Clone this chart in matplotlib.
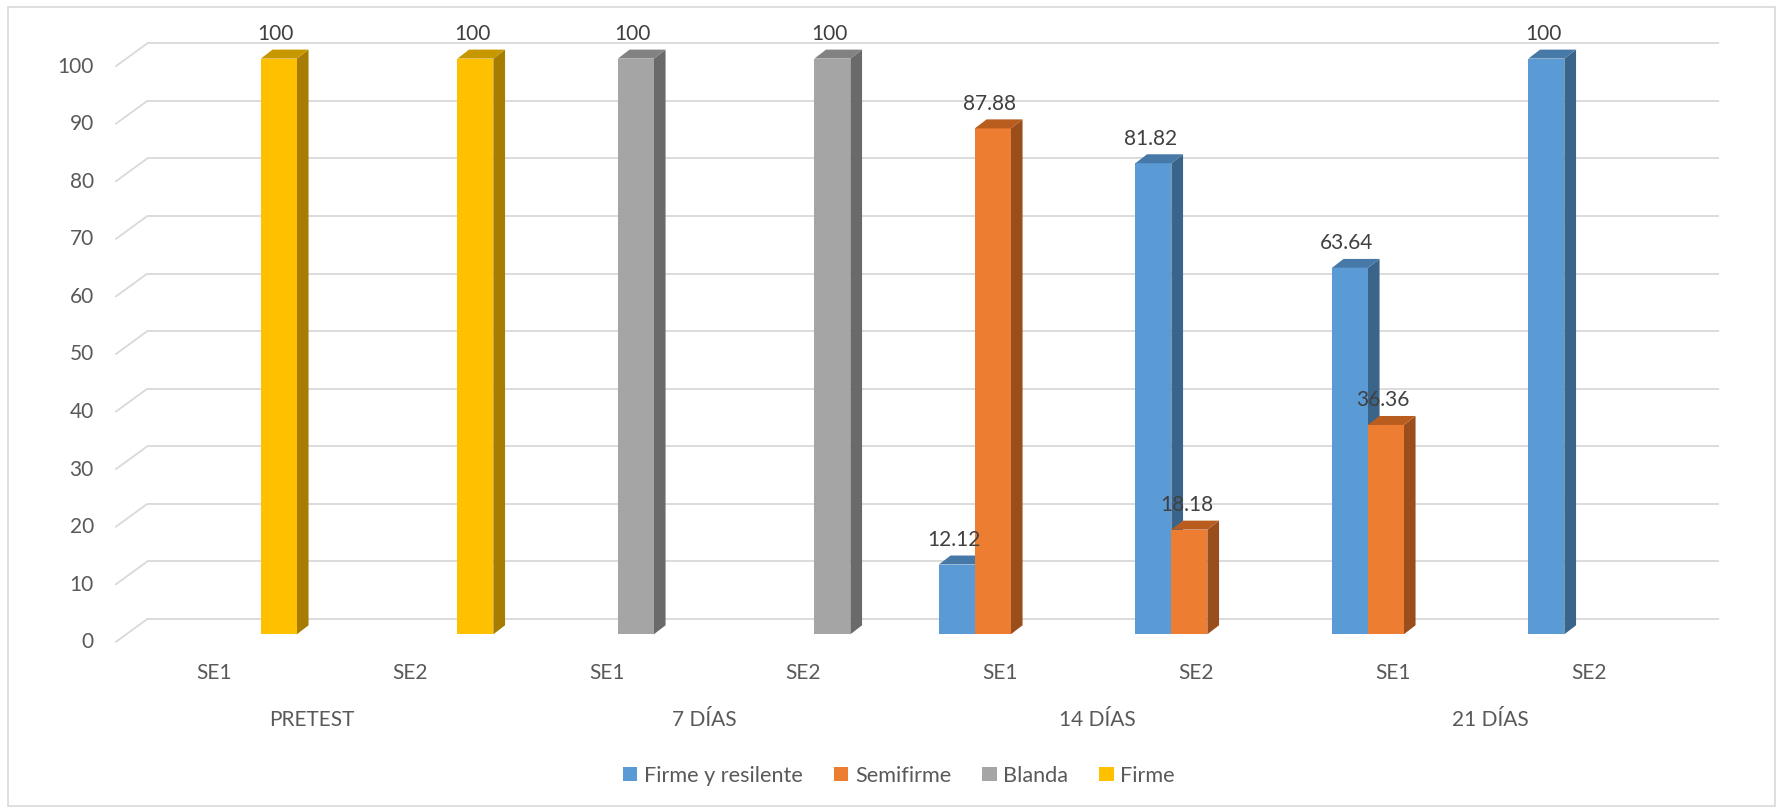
import matplotlib
matplotlib.use("Agg")
import matplotlib.pyplot as plt
from matplotlib.patches import Polygon, Patch, Rectangle

# ---- data -------------------------------------------------------------
groups = ["PRETEST", "7 DÍAS", "14 DÍAS", "21 DÍAS"]
sessions = ["SE1", "SE2", "SE1", "SE2", "SE1", "SE2", "SE1", "SE2"]
series_names = ["Firme y resilente", "Semifirme", "Blanda", "Firme"]
firme_resilente = [0, 0, 0, 0, 12.12, 81.82, 63.64, 100]
semifirme = [0, 0, 0, 0, 87.88, 18.18, 36.36, 0]
blanda = [0, 0, 100, 100, 0, 0, 0, 0]
firme = [100, 100, 0, 0, 0, 0, 0, 0]
y_ticks = [0, 10, 20, 30, 40, 50, 60, 70, 80, 90, 100]

series_values = [firme_resilente, semifirme, blanda, firme]

# ---- styling -----------------------------------------------------------
front_colors = ["#5B9BD5", "#ED7D31", "#A5A5A5", "#FFC000"]
top_colors = ["#4679A8", "#B95D1F", "#828282", "#C79700"]
side_colors = ["#3A6489", "#9A4E1C", "#6A6A6A", "#A67D00"]
grid_color = "#D9D9D9"
axis_text = "#595959"
value_text = "#404040"
FONT = "Lato"
FS = 15

W_PX, H_PX = 1780, 809
fig = plt.figure(figsize=(W_PX / 100, H_PX / 100), dpi=100)
ax = fig.add_axes([0, 0, 1, 1])
ax.axis("off")

# scale of the back wall: one category slot and one value unit in pixels
CAT_PX = 196.5
VAL_PX = 5.757
X0_PX = 147.3       # left edge of back wall
Y0_PX = 190.0       # value 0 on back wall, measured from bottom
ax.set_xlim(-X0_PX / CAT_PX, (W_PX - X0_PX) / CAT_PX)
ax.set_ylim(-Y0_PX / VAL_PX, (H_PX - Y0_PX) / VAL_PX)

def dx(px):
    return px / CAT_PX

def dy(px):
    return px / VAL_PX

n_cat = len(sessions)
FLOOR_DX, FLOOR_DY = dx(-32), dy(-23.3)     # back wall -> front edge of floor
FRONT_DX, FRONT_DY = dx(-20.7), dy(-15.3)   # back wall -> bar front faces
DEPTH_DX, DEPTH_DY = dx(11.7), dy(9.0)      # bar depth
BAR_W = dx(36)

# gridlines on the back wall plus their slanted run on the left side
for v in y_ticks:
    ax.plot([0, n_cat], [v, v], color=grid_color, lw=1.3, zorder=1,
            solid_capstyle="butt")
    ax.plot([FLOOR_DX, 0], [v + FLOOR_DY, v], color=grid_color, lw=1.3,
            zorder=1, solid_capstyle="butt")
    ax.text(dx(93.8 - X0_PX), v + FLOOR_DY, str(v), ha="right", va="center",
            fontsize=FS, family=FONT, color=axis_text)

# bars: front face, side face, top face
n_ser = len(series_values)
z = 2
for i in range(n_cat):
    left = i + 0.5 + FRONT_DX - n_ser * BAR_W / 2
    for k, vals in enumerate(series_values):
        v = vals[i]
        if v <= 0:
            continue
        x0 = left + k * BAR_W
        top = v + FRONT_DY
        ax.bar(x0, v, width=BAR_W, bottom=FRONT_DY, align="edge",
               color=front_colors[k], edgecolor="none", zorder=z)
        side = Polygon([(x0 + BAR_W, FRONT_DY),
                        (x0 + BAR_W + DEPTH_DX, FRONT_DY + DEPTH_DY),
                        (x0 + BAR_W + DEPTH_DX, top + DEPTH_DY),
                        (x0 + BAR_W, top)],
                       closed=True, facecolor=side_colors[k], edgecolor="none",
                       zorder=z - 0.5)
        cap = Polygon([(x0, top), (x0 + BAR_W, top),
                       (x0 + BAR_W + DEPTH_DX, top + DEPTH_DY),
                       (x0 + DEPTH_DX, top + DEPTH_DY)],
                      closed=True, facecolor=top_colors[k], edgecolor="none",
                      zorder=z + 0.5)
        ax.add_patch(side)
        ax.add_patch(cap)
        ax.text(x0 + BAR_W / 2 - dx(3), top + dy(24.5), f"{v:g}",
                ha="center", va="center", fontsize=FS, family=FONT,
                color=value_text, zorder=50)
        z += 2

# category labels along the front edge of the floor
for i, s in enumerate(sessions):
    ax.text(i + 0.5 + FLOOR_DX, dy(H_PX - 673 - Y0_PX), s, ha="center",
            va="center", fontsize=FS, family=FONT, color=axis_text)
for g, name in enumerate(groups):
    ax.text(2 * g + 1 + FLOOR_DX, dy(H_PX - 720 - Y0_PX), name, ha="center",
            va="center", fontsize=FS, family=FONT, color=axis_text)

# legend
handles = [Patch(facecolor=c, edgecolor="none") for c in front_colors]
leg = fig.legend(handles, series_names, loc="center",
                 bbox_to_anchor=(899 / W_PX, 33.3 / H_PX), ncol=4,
                 frameon=False, handlelength=0.65, handleheight=0.65,
                 handletextpad=0.3, columnspacing=1.45,
                 prop={"family": FONT, "size": 15.6})
for t in leg.get_texts():
    t.set_color(axis_text)

# chart frame
fig.patches.append(Rectangle((7.5 / W_PX, 3.5 / H_PX),
                             (1775 - 7.5) / W_PX, (H_PX - 6.5 - 3.5) / H_PX,
                             transform=fig.transFigure, fill=False,
                             edgecolor=grid_color, lw=1.2))

fig.savefig("out.png", dpi=100, facecolor="white")
